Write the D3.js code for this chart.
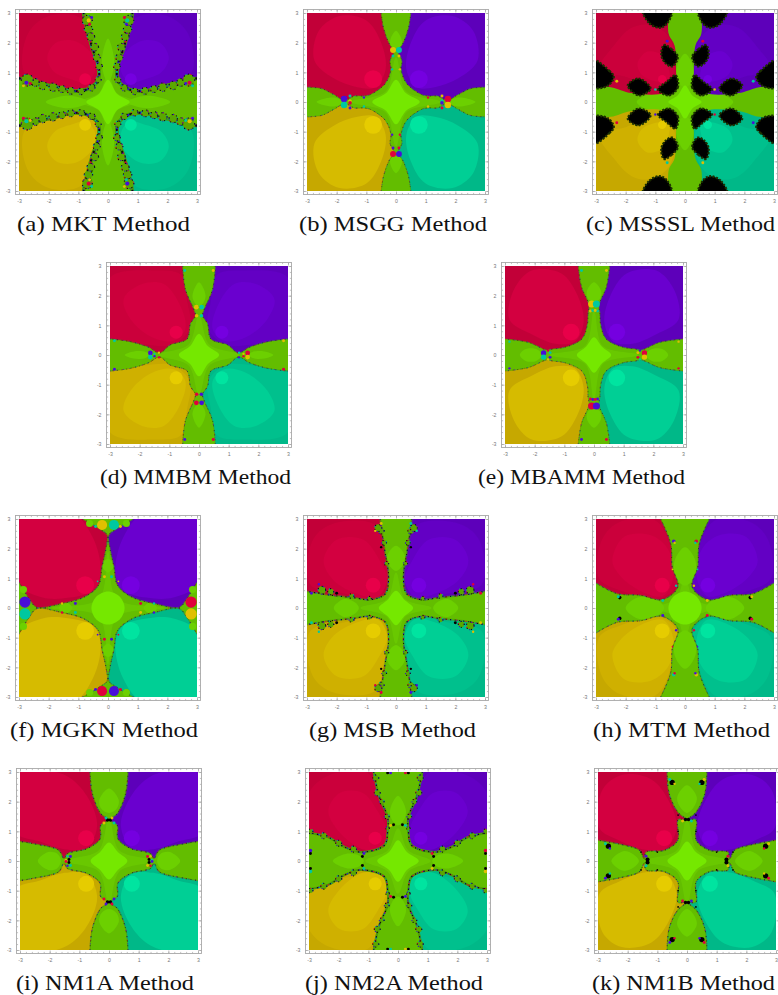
<!DOCTYPE html>
<html>
<head>
<meta charset="utf-8">
<script src="https://cdn.jsdelivr.net/npm/d3@7"></script>
<style>
    html, body { margin: 0; padding: 0; background: #fff; }
    svg { display: block; }
</style>
</head>
<body>
<svg id="figure"></svg>
<script>
// Basins of attraction for eleven methods. All outlines are read off the picture in
// plot coordinates for the top-left quadrant and mirrored into the other three.

const captions = ["(a) MKT Method", "(b) MSGG Method", "(c) MSSSL Method", "(d) MMBM Method", "(e) MBAMM Method",
    "(f) MGKN Method", "(g) MSB Method", "(h) MTM Method", "(i) NM1A Method", "(j) NM2A Method", "(k) NM1B Method"];
const tickLabels = [-3, -2, -1, 0, 1, 2, 3];
const minorTicks = d3.range(-30, 31, 2).map(d => d / 10);

// basin edges, from the top of the plot round to its left side
const mktEdge = [[-0.82,3],[-0.7,2.45],[-0.52,1.8],[-0.32,1.2],[-0.34,0.72],[-0.72,0.42],[-1.2,0.37],[-1.8,0.52],[-2.45,0.66],[-3,0.8]];
const msggEdge = [[-0.5,3],[-0.42,2.5],[-0.22,1.95],[-0.06,1.72],[-0.2,1.4],[-0.17,1.1],[-0.36,0.62],[-0.86,0.25],[-1.1,0.2],[-1.4,0.2],[-1.72,0.06],[-2.1,0.25],[-2.5,0.45],[-3,0.5]];
const mssslEdge = [[-0.55,3],[-0.55,2.3],[-0.35,1.9],[-0.3,1],[-0.3,0.65],[-0.7,0.3],[-1.8,0.3],[-2.5,0.5],[-3,0.5]];
const mmbmEdge = [[-0.55,3],[-0.46,2.22],[-0.18,1.55],[-0.12,1.33],[-0.29,1.05],[-0.4,0.54],[-0.97,0.34],[-1.33,0.07],[-1.7,0.26],[-2.31,0.45],[-3,0.54]];
const mbammEdge = [[-0.53,3],[-0.42,2.3],[-0.17,1.68],[-0.2,1.4],[-0.22,1.05],[-0.4,0.55],[-0.95,0.27],[-1.4,0.2],[-1.6,0.17],[-2.2,0.42],[-3,0.54]];
const mgknEdge = [[-0.85,3],[-0.28,2.66],[-0.03,2.46],[-0.07,2],[-0.2,1.4],[-0.32,0.77],[-0.8,0.37],[-1.6,0.14],[-2.4,0.02],[-2.65,0.3],[-3,0.88]];
const msbEdge = [[-0.53,3],[-0.45,2.4],[-0.36,1.83],[-0.25,1.04],[-0.36,0.48],[-0.87,0.28],[-1.43,0.35],[-2.2,0.43],[-3,0.56]];
const mtmEdge = [[-0.82,3],[-0.48,2.17],[-0.43,1.38],[-0.24,0.71],[-0.77,0.28],[-1.5,0.43],[-2.28,0.48],[-3,0.84]];
const nm1aEdge = [[-0.64,3],[-0.56,2.27],[-0.28,1.6],[-0.03,1.39],[-0.28,1.2],[-0.3,0.75],[-0.73,0.42],[-1.4,0.25],[-1.52,0.08],[-1.69,0.36],[-2.53,0.58],[-3,0.66]];
const nm2aEdge = [[-0.82,3],[-0.63,2.16],[-0.35,1.48],[-0.35,0.98],[-0.46,0.53],[-1.25,0.3],[-1.8,0.47],[-2.37,0.81],[-3,0.95]];
const nm1bEdge = [[-0.67,3],[-0.6,2.27],[-0.31,1.65],[-0.02,1.39],[-0.3,1.39],[-0.31,0.7],[-0.76,0.36],[-1.38,0.3],[-1.44,0.08],[-1.6,0.36],[-2.1,0.53],[-3,0.7]];

// middle shade of each basin, where it can be told from the dark outer shade
const mktMid = [[-2.8,0.95],[-2.7,2.3],[-2,2.9],[-0.95,2.85],[-0.6,2.2],[-0.3,1.1],[-0.5,0.5],[-1.5,0.5]];
const mssslMid = [[-2.9,1.1],[-2.4,1.9],[-1.8,2.5],[-1.2,2.6],[-0.55,2.2],[-0.35,1],[-0.9,0.5],[-2,0.85]];
const mmbmMid = [[-3,0.6],[-3,2.6],[-1.5,2.85],[-0.6,2.7],[-0.4,1.8],[-0.3,0.9],[-0.9,0.35],[-1.8,0.35]];
const msbMid = [[-2.9,0.8],[-2.8,2.3],[-2.1,2.85],[-0.7,2.8],[-0.4,1.8],[-0.28,1],[-0.6,0.35],[-1.8,0.5]];
const mtmMid = [[-2.9,1],[-2.8,2.3],[-2.2,2.9],[-1,2.95],[-0.5,2.1],[-0.28,0.8],[-0.8,0.33],[-2.2,0.6]];
const nm2aMid = [[-3.1,1.1],[-3,2.3],[-2.3,2.9],[-1,2.95],[-0.65,2.1],[-0.35,1],[-0.5,0.55],[-1.7,0.55]];

// light lobe inside each basin
const mktLobe = [[-2.05,1.5],[-1.75,2],[-1.1,2.05],[-0.5,1.55],[-0.45,1],[-0.75,0.65],[-1.2,0.75],[-1.8,1]];
const msggLobe = [[-2.75,1.4],[-2.6,2.4],[-1.9,2.9],[-1,2.75],[-0.5,2],[-0.35,1.1],[-0.7,0.5],[-1.3,0.5],[-2.1,0.8]];
const mssslLobe = [[-1.6,1.3],[-1.27,1.7],[-0.76,1.57],[-0.54,1.07],[-0.54,0.73],[-0.88,0.68],[-1.44,0.9]];
const mmbmLobe = [[-2.54,1.89],[-1.92,2.39],[-1.19,2.39],[-0.63,1.66],[-0.46,0.88],[-0.85,0.48],[-1.58,0.6],[-2.3,1.2]];
const mbammLobe = [[-2.85,1.2],[-2.7,2.2],[-2.1,2.85],[-1.1,2.75],[-0.55,2],[-0.35,1.1],[-0.65,0.45],[-1.3,0.38],[-2.1,0.7]];
const mgknLobe = [[-3.2,0.95],[-3.2,3.2],[-1.2,3.2],[-0.5,2.35],[-0.25,1.2],[-0.5,0.6],[-1.3,0.35],[-2.2,0.35]];
const msbLobe = [[-2.44,1.6],[-2,2.3],[-1.1,2.3],[-0.55,1.6],[-0.3,0.95],[-0.64,0.37],[-1.3,0.48],[-2.1,0.93]];
const mtmLobe = [[-2.45,1.6],[-2.05,2.4],[-1.15,2.45],[-0.55,1.95],[-0.4,1],[-0.75,0.4],[-1.55,0.6],[-2.2,1.1]];
const nm1aLobe = [[-3.2,1],[-3.2,3],[-2.4,3.1],[-1.4,2.85],[-0.75,2.2],[-0.4,1.2],[-0.75,0.45],[-1.5,0.4],[-2.3,0.65]];
const nm2aLobe = [[-2.35,1.7],[-1.95,2.3],[-1.2,2.3],[-0.7,1.7],[-0.38,0.98],[-0.6,0.45],[-1.2,0.4],[-2,1]];
const nm1bLobe = [[-2.95,1.1],[-2.85,2.4],[-2.2,2.9],[-1.2,2.75],[-0.6,2],[-0.35,1.1],[-0.75,0.4],[-1.5,0.4],[-2.3,0.7]];

// radius of the bright spot at (-0.77, 0.77), panel by panel
const spotRadius = [0.2, 0.3, 0.14, 0.22, 0.28, 0.3, 0.25, 0.25, 0.27, 0.22, 0.27];

// quarter of the central green star, from the negative x tip to the top tip
const mktStar = [[-0.73,0],[-0.3,0.28],[0,0.75]];
const msggStar = [[-0.8,0],[-0.33,0.3],[0,0.75]];
const mssslStar = [[-0.56,0],[-0.25,0.22],[0,0.56]];
const mmbmStar = [[-0.68,0],[-0.3,0.3],[0,0.72]];
const mbammStar = [[-0.58,0],[-0.27,0.28],[0,0.6]];
const mgknStar = [[-0.56,0],[-0.4,0.38],[0,0.56]];
const msbStar = [[-0.58,0],[-0.28,0.28],[0,0.58]];
const mtmStar = [[-0.56,0],[-0.4,0.38],[0,0.56]];
const nm1aStar = [[-0.62,0],[-0.3,0.3],[0,0.62]];
const nm2aStar = [[-0.7,0],[-0.3,0.3],[0,0.7]];
const nm1bStar = [[-0.66,0],[-0.3,0.3],[0,0.66]];

// slightly brighter green hub around each star
const mktHub = [[-0.95,0],[-0.3,0.3],[0,0.95]];
const msggHub = [[-1.5,0],[-0.35,0.35],[0,1.5]];
const mssslHub = [[-0.9,0],[-0.3,0.3],[0,0.9]];
const mmbmHub = [[-1.35,0],[-0.35,0.35],[0,1.35]];
const mbammHub = [[-1.5,0],[-0.3,0.3],[0,1.5]];
const mgknHub = [[-1.9,0],[-0.3,0.3],[0,1.9]];
const msbHub = [[-1.2,0],[-0.3,0.3],[0,1.2]];
const mtmHub = [[-1,0],[-0.3,0.3],[0,1]];
const nm1aHub = [[-1.45,0],[-0.35,0.35],[0,1.45]];
const nm2aHub = [[-1.1,0],[-0.35,0.35],[0,1.1]];
const nm1bHub = [[-1.45,0],[-0.35,0.35],[0,1.45]];

// half outline of the green lobe on the upper arm and on the left arm
const mktArmV = [[0,2.14],[-0.2,1.5],[-0.15,0.95],[0,0.65]];
const mktArmH = [[-2.1,0],[-1.5,0.2],[-0.95,0.15],[-0.65,0]];
const msggArmV = [[0,2.4],[-0.2,2.05],[-0.12,1.75],[0,1.7]];
const msggArmH = [[-2.68,0],[-2.2,0.15],[-1.9,0.1],[-1.8,0]];
const mssslArmV = [[0,1.63],[-0.27,1.2],[-0.25,0.7],[0,0.5]];
const mssslArmH = [[-1.63,0],[-1.2,0.27],[-0.7,0.25],[-0.5,0]];
const mmbmArmV = [[0,2.45],[-0.22,2],[-0.1,1.7],[0,1.65]];
const mmbmArmH = [[-2.5,0],[-2.2,0.12],[-1.8,0.1],[-1.68,0]];
const mbammArmV = [[0,2.45],[-0.24,2.15],[-0.2,1.9],[0,1.8]];
const mbammArmH = [[-2.5,0],[-2.3,0.2],[-1.95,0.2],[-1.75,0]];
const mgknArmV = [[0,1.65],[-0.22,1.45],[0,1.2]];
const mgknArmH = [[-1.65,0],[-1.45,0.2],[-1.2,0]];
const msbArmV = [[0,2.1],[-0.3,1.75],[-0.2,1.4],[0,1.25]];
const msbArmH = [[-2.1,0],[-1.75,0.3],[-1.4,0.2],[-1.25,0]];
const mtmArmV = [[0,2.05],[-0.35,1.6],[-0.3,1],[0,0.75]];
const mtmArmH = [[-2,0],[-1.6,0.35],[-1,0.3],[-0.7,0]];
const nm1aArmV = [[0,2.44],[-0.33,2.05],[-0.25,1.75],[0,1.62]];
const nm1aArmH = [[-2.4,0],[-2.05,0.3],[-1.75,0.25],[-1.62,0]];
const nm2aArmV = [[0,2.2],[-0.27,1.7],[-0.18,1.35],[0,1.2]];
const nm2aArmH = [[-2.2,0],[-1.7,0.25],[-1.3,0.18],[-1.15,0]];
const nm1bArmV = [[0,2.55],[-0.33,2.15],[-0.22,1.8],[0,1.62]];
const nm1bArmH = [[-2.55,0],[-2.15,0.33],[-1.8,0.22],[-1.62,0]];

// black regions of the MSSSL plot
const mssslBlack = [
    [[-1.42,3.1],[-1.2,2.65],[-0.85,2.5],[-0.6,2.65],[-0.45,3.1]],
    [[-0.71,1.92],[-0.45,1.78],[-0.24,1.52],[-0.43,1.2],[-0.65,1.3],[-0.8,1.58]],
    [[-0.32,0.9],[-0.24,0.5],[-0.54,0.22],[-0.91,0.42],[-0.62,0.68]],
    [[-1.93,0.56],[-1.56,0.79],[-1.16,0.45],[-1.56,0.22]],
    [[-3.1,1.42],[-2.55,1.05],[-2.4,0.85],[-2.6,0.55],[-3.1,0.5]]
];

// round specks: x, y, radius, colour key (-1 black, -2 green, otherwise xor on the quadrant number)
const mktSpecks = [[-0.65,2.75,0.07,2],[-0.62,2.62,0.05,0],[-0.55,2.85,0.05,1],[-2.75,0.65,0.07,1],[-2.62,0.62,0.05,0],[-2.85,0.55,0.05,2]];
const msggSpecks = [[-1.75,0.1,0.11,1],[-1.55,0.2,0.05,3],[-1.55,0.03,0.06,2],[-0.1,1.75,0.1,2],[-0.1,1.55,0.05,3],[-0.13,1.1,0.04,3],[-1.08,0.15,0.04,1]];
const mssslSpecks = [[-1,0.42,0.04,3],[-2.3,0.7,0.05,2],[-0.6,2.05,0.05,1]];
const mmbmSpecks = [[-1.64,0.07,0.08,1],[-1.5,0.04,0.04,3],[-1.35,0.08,0.04,2],[-0.09,1.61,0.08,2],[-0.08,1.32,0.06,2],[-0.48,2.85,0.05,3],[-2.85,0.48,0.05,3]];
const mbammSpecks = [[-1.7,0.07,0.09,1],[-1.48,0.08,0.05,3],[-1.55,0.15,0.04,0],[-0.08,1.72,0.12,2],[-0.12,1.48,0.05,2],[-0.04,1.5,0.05,3],[-0.42,2.85,0.05,3],[-2.85,0.45,0.04,3]];
const mgknSpecks = [[-0.2,2.8,0.17,2],[-2.8,0.2,0.19,1],[-0.62,2.85,0.12,-2],[-2.85,0.62,0.12,-2],[-0.42,2.75,0.05,3],[-1.1,0.15,0.05,1],[-0.12,1.05,0.05,2],[-0.35,0.9,0.03,3],[-1.55,0.15,0.04,2]];
const msbSpecks = [[-0.5,2.05,0.04,-1],[-2,0.5,0.05,-1],[-0.7,2.6,0.04,2],[-2.6,0.8,0.04,1],[-0.5,2.85,0.05,2],[-2.85,0.5,0.05,1]];
const mtmSpecks = [[-0.38,2.25,0.06,1],[-0.35,2.2,0.04,2],[-2.2,0.35,0.06,-1],[-2.25,0.38,0.05,3],[-0.3,0.75,0.04,3],[-0.75,0.25,0.05,3],[-0.42,1.3,0.03,2]];
const nm1aSpecks = [[-1.35,0.05,0.05,-1],[-1.3,0.15,0.05,1],[-1.45,0.02,0.05,2],[-0.05,1.38,0.06,-1],[-0.17,1.28,0.05,2],[-0.1,1.45,0.05,3],[-1.4,0.16,0.04,3]];
const nm2aSpecks = [[-0.35,2.97,0.05,-1],[-0.25,2.97,0.05,1],[-2.95,0.35,0.06,1],[-2.95,0.25,0.05,-1],[-0.15,1.22,0.05,-1],[-0.25,1.2,0.05,2],[-1.2,0.15,0.05,-1],[-1.15,0.25,0.05,1]];
const nm1bSpecks = [[-0.5,2.65,0.09,-1],[-2.65,0.5,0.09,-1],[-0.58,2.75,0.05,3],[-2.75,0.58,0.05,3],[-0.42,2.6,0.04,2],[-2.6,0.42,0.04,1],[-1.33,0.05,0.07,-1],[-1.38,0.16,0.05,1],[-0.05,1.4,0.06,-1],[-0.15,1.35,0.05,2],[-0.3,1.55,0.03,-1],[-1.55,0.3,0.03,-1],[-0.3,1,0.03,-1],[-1,0.3,0.03,-1]];

// little scalloped bumps on the rougher boundaries: x, y, radius
const mktBumps = [[-0.7,2.75,0.17],[-0.66,2.45,0.14],[-0.58,2.2,0.13],[-0.45,1.85,0.13],[-0.38,1.5,0.12],[-0.3,1.2,0.11],[-0.33,0.75,0.1],[-0.55,0.48,0.11],[-0.9,0.36,0.11],[-1.25,0.38,0.12],[-1.55,0.44,0.12],[-1.85,0.5,0.14],[-2.2,0.56,0.14],[-2.45,0.66,0.13],[-2.72,0.74,0.2]];
const msbBumps = [[-0.5,2.6,0.1],[-0.4,2.2,0.08],[-0.32,1.5,0.07],[-2.5,0.6,0.13],[-2.2,0.55,0.1],[-1.5,0.4,0.08],[-0.9,0.32,0.07],[-0.6,2.7,0.12]];
const nm2aBumps = [[-0.7,2.3,0.1],[-0.55,2,0.08],[-0.38,1.5,0.08],[-0.35,1.1,0.06],[-1.5,0.4,0.1],[-2,0.6,0.1],[-2.5,0.85,0.1],[-2.95,1,0.08],[-0.75,2.8,0.1]];

const panels = [
    { edge: mktEdge, mid: mktMid, lobe: mktLobe, star: mktStar, hub: mktHub, armV: mktArmV, armH: mktArmH, specks: mktSpecks, bumps: mktBumps, fringe: 3.8 },
    { edge: msggEdge, mid: null, lobe: msggLobe, star: msggStar, hub: msggHub, armV: msggArmV, armH: msggArmH, specks: msggSpecks, bumps: [], fringe: 0.9 },
    { edge: mssslEdge, mid: mssslMid, lobe: mssslLobe, star: mssslStar, hub: mssslHub, armV: mssslArmV, armH: mssslArmH, specks: mssslSpecks, bumps: [], fringe: 0, black: mssslBlack },
    { edge: mmbmEdge, mid: mmbmMid, lobe: mmbmLobe, star: mmbmStar, hub: mmbmHub, armV: mmbmArmV, armH: mmbmArmH, specks: mmbmSpecks, bumps: [], fringe: 1 },
    { edge: mbammEdge, mid: null, lobe: mbammLobe, star: mbammStar, hub: mbammHub, armV: mbammArmV, armH: mbammArmH, specks: mbammSpecks, bumps: [], fringe: 0.9 },
    { edge: mgknEdge, mid: null, lobe: mgknLobe, star: mgknStar, hub: mgknHub, armV: mgknArmV, armH: mgknArmH, specks: mgknSpecks, bumps: [], fringe: 1.1 },
    { edge: msbEdge, mid: msbMid, lobe: msbLobe, star: msbStar, hub: msbHub, armV: msbArmV, armH: msbArmH, specks: msbSpecks, bumps: msbBumps, fringe: 2 },
    { edge: mtmEdge, mid: mtmMid, lobe: mtmLobe, star: mtmStar, hub: mtmHub, armV: mtmArmV, armH: mtmArmH, specks: mtmSpecks, bumps: [], fringe: 1.1 },
    { edge: nm1aEdge, mid: null, lobe: nm1aLobe, star: nm1aStar, hub: nm1aHub, armV: nm1aArmV, armH: nm1aArmH, specks: nm1aSpecks, bumps: [], fringe: 1.3 },
    { edge: nm2aEdge, mid: nm2aMid, lobe: nm2aLobe, star: nm2aStar, hub: nm2aHub, armV: nm2aArmV, armH: nm2aArmH, specks: nm2aSpecks, bumps: nm2aBumps, fringe: 2.2 },
    { edge: nm1bEdge, mid: null, lobe: nm1bLobe, star: nm1bStar, hub: nm1bHub, armV: nm1bArmV, armH: nm1bArmH, specks: nm1bSpecks, bumps: [], fringe: 1.3 }
];

// page layout, one entry per panel
const panelLeft = [19, 307, 596, 110, 505, 19, 307, 596, 20, 309, 598];
const panelTop = [13, 13, 13, 266, 266, 519, 519, 519, 772, 772, 772];
const captionLeft = [17, 299, 586, 100, 478, 10, 309, 593, 16, 305, 592];
const captionRight = [190, 487, 775, 291, 685, 198, 476, 770, 194, 483, 775];
const captionBase = [231, 231, 231, 484, 484, 737, 737, 737, 990, 990, 990];
const plotSize = 178;
const framePad = 3.5;

// quadrants: top-left, top-right, bottom-left, bottom-right
const quadrants = [[1, 1], [-1, 1], [1, -1], [-1, -1]];
const darkShade = ["#c20039", "#5d00ba", "#c6a800", "#00b888"];
const midShade = ["#cb003b", "#6300c4", "#cfb000", "#00c08d"];
const lobeShade = ["#d30040", "#6a00cf", "#d6bb00", "#00cf95"];
const dotShade = ["#e80048", "#7400e0", "#e6cc00", "#00e4a0"];
const speckShade = ["#e0003c", "#4a10d8", "#e0c000", "#00c8a0"];
const greenBase = "#63bd00";
const greenHub = "#69c800";
const greenArm = "#6cd000";
const greenStar = "#74e800";
const fringeDots = [["#e00030", "0.1 9.7"], ["#3010d0", "0.1 6.3"], ["#00b090", "0.1 12.1"], ["#101010", "0.1 4.4"]];

const svg = d3.select("#figure").attr("width", 778).attr("height", 995);
const defs = svg.append("defs");
defs.append("filter").attr("id", "soft")
    .attr("x", "-5%").attr("y", "-5%").attr("width", "110%").attr("height", "110%")
    .append("feGaussianBlur").attr("stdDeviation", 0.5);

// reflect a half outline into a closed ring
function ringX(half) {
    return half.concat(half.slice(1, -1).reverse().map(d => [-d[0], d[1]]));
}
function ringY(half) {
    return half.concat(half.slice(1, -1).reverse().map(d => [d[0], -d[1]]));
}
function starRing(quarter) {
    const top = quarter.concat(quarter.slice(0, -1).reverse().map(d => [-d[0], d[1]]));
    return ringY(top);
}

function addDots(g, d, width) {
    fringeDots.forEach(([color, dash]) => {
        g.append("path").attr("d", d).attr("fill", "none")
            .attr("stroke", color).attr("stroke-width", width)
            .attr("stroke-linecap", "round").attr("stroke-dasharray", dash);
    });
}

function drawPanel(panel, i) {
    const x = d3.scaleLinear().domain([-3, 3]).range([panelLeft[i], panelLeft[i] + plotSize]);
    const y = d3.scaleLinear().domain([-3, 3]).range([panelTop[i] + plotSize, panelTop[i]]);
    const unit = x(1) - x(0);

    const blob = (sx, sy) => d3.line()
        .x(d => x(sx * d[0])).y(d => y(sy * d[1]))
        .curve(d3.curveCatmullRomClosed);
    const open = (sx, sy) => d3.line()
        .x(d => x(sx * d[0])).y(d => y(sy * d[1]))
        .curve(d3.curveCatmullRom);
    const basin = (sx, sy) => open(sx, sy)(panel.edge) + `L${x(-3 * sx)},${y(3 * sy)}Z`;

    defs.append("clipPath").attr("id", `plot${i}`)
        .append("rect").attr("x", x(-3)).attr("y", y(3)).attr("width", plotSize).attr("height", plotSize);
    quadrants.forEach(([sx, sy], q) => {
        defs.append("clipPath").attr("id", `basin${i}-${q}`)
            .append("path").attr("d", basin(sx, sy));
    });

    const g = svg.append("g").attr("clip-path", `url(#plot${i})`)
        .append("g").attr("filter", "url(#soft)");

    g.append("rect").attr("x", x(-3) - 2).attr("y", y(3) - 2)
        .attr("width", plotSize + 4).attr("height", plotSize + 4).attr("fill", greenBase);

    // hub, green lobes on the arms, then the star in the middle
    g.append("path").attr("d", blob(1, 1)(starRing(panel.hub))).attr("fill", greenHub);
    [1, -1].forEach(s => {
        g.append("path").attr("d", blob(1, s)(ringX(panel.armV))).attr("fill", greenArm);
        g.append("path").attr("d", blob(s, 1)(ringY(panel.armH))).attr("fill", greenArm);
    });
    g.append("path").attr("d", blob(1, 1)(starRing(panel.star))).attr("fill", greenStar);

    // the four basins with their shades
    quadrants.forEach(([sx, sy], q) => {
        const b = g.append("g");
        b.append("path").attr("d", basin(sx, sy)).attr("fill", darkShade[q]);
        const inner = b.append("g").attr("clip-path", `url(#basin${i}-${q})`);
        if (panel.mid) {
            inner.append("path").attr("d", blob(sx, sy)(panel.mid)).attr("fill", midShade[q]);
        }
        inner.append("path").attr("d", blob(sx, sy)(panel.lobe)).attr("fill", lobeShade[q]);
        inner.append("circle").attr("cx", x(sx * -0.77)).attr("cy", y(sy * 0.77))
            .attr("r", unit * spotRadius[i]).attr("fill", dotShade[q]);
    });

    // mixed colours along the fractal boundaries
    if (panel.fringe > 0) {
        quadrants.forEach(([sx, sy]) => {
            const d = open(sx, sy)(panel.edge);
            g.append("path").attr("d", d).attr("fill", "none")
                .attr("stroke", "#4c9a08").attr("stroke-width", panel.fringe)
                .attr("stroke-opacity", panel.fringe > 2 ? 1 : 0.5);
            addDots(g, d, panel.fringe * 0.6);
            panel.bumps.forEach(b => {
                const ring = d3.path();
                ring.arc(x(sx * b[0]), y(sy * b[1]), unit * b[2], 0, 2 * Math.PI);
                g.append("path").attr("d", ring.toString()).attr("fill", "#5aa800");
                addDots(g, ring.toString(), 1.2);
            });
        });
    }

    if (panel.black) {
        quadrants.forEach(([sx, sy]) => {
            panel.black.forEach(shape => {
                g.append("path").attr("d", blob(sx, sy)(shape)).attr("fill", "#040404")
                    .attr("stroke", "#1c3000").attr("stroke-width", 2.2).attr("stroke-dasharray", "2 1.5");
            });
        });
    }

    quadrants.forEach(([sx, sy], q) => {
        g.selectAll(null).data(panel.specks).join("circle")
            .attr("cx", d => x(sx * d[0])).attr("cy", d => y(sy * d[1]))
            .attr("r", d => unit * d[2])
            .attr("fill", d => d[3] === -1 ? "#060606" : d[3] === -2 ? greenArm : speckShade[q ^ d[3]]);
    });

    drawFrame(x, y);

    svg.append("text")
        .attr("x", captionLeft[i]).attr("y", captionBase[i])
        .attr("textLength", captionRight[i] - captionLeft[i])
        .attr("lengthAdjust", "spacingAndGlyphs")
        .attr("font-family", "'Liberation Serif', serif")
        .attr("font-size", 21).attr("fill", "#111")
        .text(captions[i]);
}

function drawFrame(x, y) {
    const x0 = x.range()[0] - framePad, x1 = x.range()[1] + framePad;
    const y0 = y.range()[1] - framePad, y1 = y.range()[0] + framePad;
    const frameColor = "#a8a8a8";
    const sides = [
        [d3.axisBottom(x), `translate(0,${y1})`, true],
        [d3.axisLeft(y), `translate(${x0},0)`, true],
        [d3.axisTop(x), `translate(0,${y0})`, false],
        [d3.axisRight(y), `translate(${x1},0)`, false]
    ];
    sides.forEach(([axis, move, labelled]) => {
        const minor = svg.append("g").attr("transform", move)
            .call(axis.tickValues(minorTicks).tickSize(-1.6).tickFormat(""));
        minor.select(".domain").remove();
        minor.selectAll("line").attr("stroke", frameColor).attr("stroke-width", 0.7);
        const major = svg.append("g").attr("transform", move)
            .call(axis.tickValues(tickLabels).tickSize(-3).tickPadding(5)
                .tickFormat(d => labelled ? String(d) : ""));
        major.select(".domain").remove();
        major.selectAll("line").attr("stroke", frameColor).attr("stroke-width", 0.8);
        major.selectAll("text").attr("font-size", 5.2).attr("fill", "#777")
            .attr("font-family", "'Liberation Sans', sans-serif");
    });
    svg.append("rect").attr("x", x0).attr("y", y0)
        .attr("width", x1 - x0).attr("height", y1 - y0)
        .attr("fill", "none").attr("stroke", frameColor).attr("stroke-width", 0.9);
}

panels.forEach(drawPanel);
</script>
</body>
</html>
